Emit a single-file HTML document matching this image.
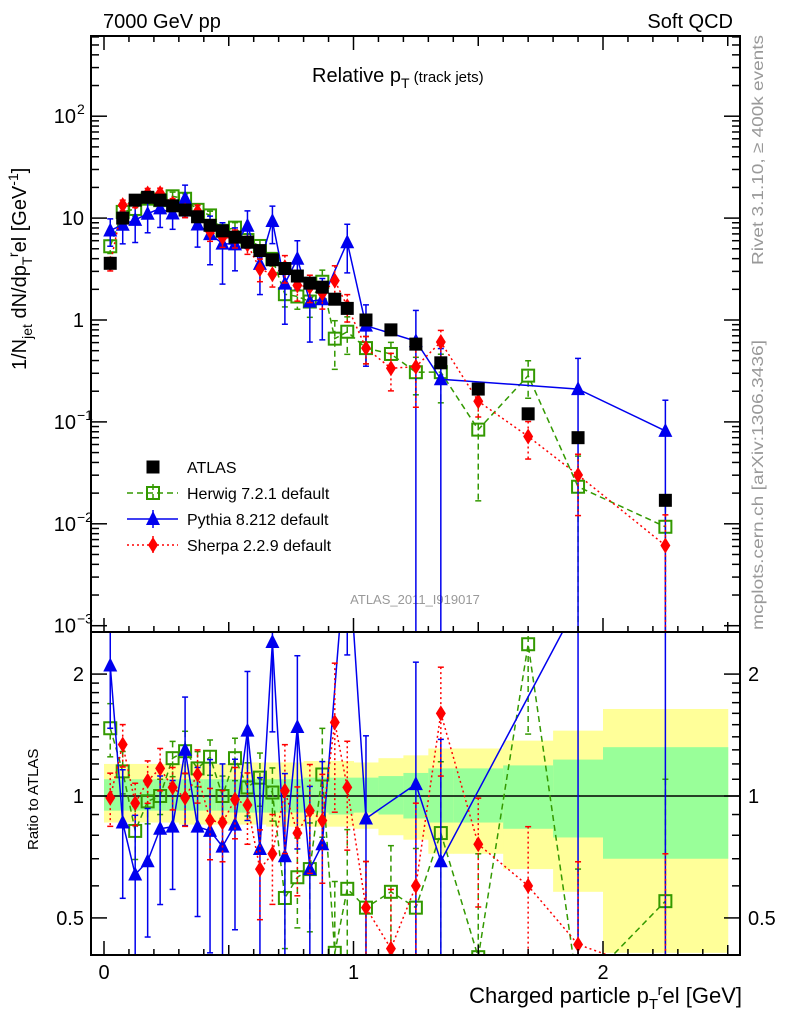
<!DOCTYPE html>
<html><head><meta charset="utf-8"><style>
body{margin:0;background:#fff;width:786px;height:1024px;overflow:hidden}
svg{font-family:"Liberation Sans",sans-serif;display:block}
</style></head><body>
<svg id="c" width="786" height="1024" xmlns="http://www.w3.org/2000/svg" overflow="hidden">
<defs>
<clipPath id="cm"><rect x="91" y="36" width="649" height="596"/></clipPath>
<clipPath id="cr"><rect x="91" y="632" width="649" height="323"/></clipPath>
</defs>
<text x="103" y="28" font-size="20">7000 GeV pp</text>
<text x="733" y="28" font-size="20" text-anchor="end">Soft QCD</text>
<text x="312" y="82" font-size="20">Relative p<tspan font-size="14" dy="6">T</tspan><tspan font-size="15" dy="-6"> (track jets)</tspan></text>
<text transform="translate(26,370) rotate(-90)" font-size="20">1/N<tspan font-size="14" dy="6">jet</tspan><tspan dy="-6"> dN/dp</tspan><tspan font-size="14" dy="6">T</tspan><tspan font-size="14" dy="-14">r</tspan><tspan dy="8">el [GeV</tspan><tspan font-size="14" dy="-8">-1</tspan><tspan dy="8">]</tspan></text>
<text transform="translate(38,850) rotate(-90)" font-size="15">Ratio to ATLAS</text>
<text x="742" y="1003" font-size="22" text-anchor="end">Charged particle p<tspan font-size="15" dy="6">T</tspan><tspan font-size="15" dy="-14">r</tspan><tspan dy="8">el [GeV]</tspan></text>
<text transform="translate(763,265) rotate(-90)" font-size="16" fill="#999" textLength="230" lengthAdjust="spacingAndGlyphs">Rivet 3.1.10, ≥ 400k events</text>
<text transform="translate(763,630) rotate(-90)" font-size="16" fill="#999" textLength="290" lengthAdjust="spacingAndGlyphs">mcplots.cern.ch [arXiv:1306.3436]</text>
<text x="415" y="604" font-size="13" fill="#999" text-anchor="middle">ATLAS_2011_I919017</text>
<g id="bands" clip-path="url(#cr)"></g>
<g id="mainMarks" clip-path="url(#cm)"></g>
<g id="ratioMarks" clip-path="url(#cr)"></g>
<g id="axes"></g>
<g id="legend"></g>
</svg>
<script>
const xs=[0.025,0.075,0.125,0.175,0.225,0.275,0.325,0.375,0.425,0.475,0.525,0.575,0.625,0.675,0.725,0.775,0.825,0.875,0.925,0.975,1.05,1.15,1.25,1.35,1.5,1.7,1.9,2.25];
const binEdges=[0,0.05,0.1,0.15,0.2,0.25,0.3,0.35,0.4,0.45,0.5,0.55,0.6,0.65,0.7,0.75,0.8,0.85,0.9,0.95,1.0,1.1,1.2,1.3,1.4,1.6,1.8,2.0,2.5];
const atlas=[3.6,10,15,16,15,13.2,12,10.3,8.5,7.5,6.5,5.8,4.8,3.9,3.2,2.7,2.3,2.1,1.6,1.3,1.0,0.8,0.58,0.38,0.21,0.12,0.07,0.017];
const herwigR=[1.47,1.15,0.82,0.97,1.0,1.24,1.29,1.17,1.25,1.0,1.24,1.05,1.11,1.02,0.56,0.63,0.66,1.13,0.41,0.59,0.53,0.58,0.53,0.81,0.40,2.37,0.33,0.55];
const pythiaR=[2.1,0.86,0.64,0.69,0.83,0.84,1.3,0.84,0.82,0.75,0.85,1.45,0.74,2.4,0.71,1.48,0.66,0.76,null,4.46,0.88,null,1.07,0.69,null,null,3.0,4.8];
const sherpaR=[0.99,1.34,0.96,1.09,1.17,1.05,0.99,1.13,0.87,0.86,0.98,0.95,0.66,0.72,1.03,0.81,0.92,0.87,1.52,1.05,0.53,0.42,0.6,1.6,0.76,0.6,0.43,0.36];
const herwigE=[0.15,0.12,0.15,0.12,0.1,0.1,0.12,0.1,0.1,0.12,0.12,0.15,0.15,0.15,0.25,0.25,0.3,0.3,0.5,0.4,0.3,0.3,0.4,0.5,0.8,0.4,1,1];
const pythiaE=[0.3,0.35,0.4,0.35,0.35,0.3,0.35,0.4,0.5,0.6,0.45,0.4,0.5,0.4,0.6,0.5,0.6,0.6,0,0.5,0.6,0,1,1,0,0,1,1];
const sherpaE=[0.15,0.12,0.12,0.12,0.12,0.12,0.15,0.15,0.2,0.2,0.2,0.2,0.25,0.25,0.3,0.3,0.3,0.3,0.4,0.3,0.3,0.4,0.6,0.3,0.3,0.4,0.6,1];
const yellowUp=[1.2,1.2,1.2,1.2,1.2,1.2,1.2,1.2,1.2,1.2,1.21,1.21,1.21,1.21,1.21,1.21,1.22,1.22,1.22,1.22,1.21,1.24,1.26,1.31,1.31,1.37,1.45,1.64];
const greenUp=[1.1,1.1,1.1,1.1,1.1,1.1,1.1,1.1,1.1,1.1,1.1,1.1,1.1,1.1,1.1,1.1,1.11,1.11,1.11,1.11,1.11,1.12,1.14,1.17,1.17,1.19,1.23,1.32];
const greenDn=[0.92,0.92,0.92,0.92,0.92,0.92,0.92,0.92,0.92,0.92,0.91,0.91,0.91,0.91,0.91,0.91,0.91,0.91,0.9,0.9,0.91,0.9,0.88,0.86,0.86,0.83,0.79,0.70];
const yellowDn=[0.86,0.86,0.86,0.86,0.86,0.86,0.85,0.85,0.85,0.85,0.85,0.85,0.85,0.84,0.84,0.84,0.84,0.84,0.84,0.84,0.83,0.8,0.78,0.72,0.72,0.66,0.58,0.41];

const NS="http://www.w3.org/2000/svg";
const X=v=>104+v*249.5;
const Y=v=>320-101.9*Math.log10(v);
const R=v=>796-405*Math.log10(v);
const clampM=y=>Math.max(30,Math.min(640,y));
const clampR=y=>Math.max(626,Math.min(960,y));
function mk(p,tag,at){const e=document.createElementNS(NS,tag);for(const k in at)e.setAttribute(k,at[k]);p.appendChild(e);return e;}
const gB=document.getElementById('bands'),gM=document.getElementById('mainMarks'),gR=document.getElementById('ratioMarks'),gA=document.getElementById('axes'),gL=document.getElementById('legend');

for(let i=0;i<xs.length;i++){
  const x0=X(binEdges[i]),x1=X(binEdges[i+1]);
  const yb=Math.min(955,R(yellowDn[i]));
  let r=mk(gB,'rect',{x:x0,y:R(yellowUp[i]),width:x1-x0+0.5,height:yb-R(yellowUp[i]),fill:'#ffff99'});
  
  
  r=mk(gB,'rect',{x:x0,y:R(greenUp[i]),width:x1-x0+0.5,height:R(greenDn[i])-R(greenUp[i]),fill:'#99ff99'});
  
  
}
let ln=mk(gR,'line',{x1:91,x2:740,y1:R(1),y2:R(1),stroke:'#000','stroke-width':1.5});



function marker(g,type,x,y,col){
  let e;
  if(type==='sq')e=mk(g,'rect',{x:x-6.5,y:y-6.5,width:13,height:13,fill:'#000'});
  if(type==='osq')e=mk(g,'rect',{x:x-6,y:y-6,width:12,height:12,fill:'none',stroke:col,'stroke-width':2});
  if(type==='tri')e=mk(g,'polygon',{points:`${x},${y-8} ${x-7},${y+6} ${x+7},${y+6}`,fill:col});
  if(type==='dia')e=mk(g,'polygon',{points:`${x},${y-8} ${x-5},${y} ${x},${y+8} ${x+5},${y}`,fill:col});
  return e;
}
const series=[
 {name:'herwig',r:herwigR,e:herwigE,col:'#339900',dash:'6,4',type:'osq'},
 {name:'pythia',r:pythiaR,e:pythiaE,col:'#0000ee',dash:'',type:'tri'},
 {name:'sherpa',r:sherpaR,e:sherpaE,col:'#ff0000',dash:'2,3',type:'dia'}];
series.forEach(s=>{
  [[gM,(i,f)=>Y(atlas[i]*f),clampM],[gR,(i,f)=>R(f),clampR]].forEach(([g,fy,cl])=>{
    let pts=[];
    for(let i=0;i<xs.length;i++){ if(s.r[i]===null)continue; pts.push(X(xs[i])+','+fy(i,s.r[i])); }
    const pl=mk(g,'polyline',{points:pts.join(' '),fill:'none',stroke:s.col,'stroke-width':1.5,'stroke-dasharray':s.dash});
    
    
    for(let i=0;i<xs.length;i++){
      const v=s.r[i]; if(v===null)continue;
      const x=X(xs[i]);
      const hiRaw=fy(i,v*(1+s.e[i]));
      const full=(1-s.e[i])<=0.01;
      const loRaw=full?2000:fy(i,v*(1-s.e[i]));
      const hi=cl(hiRaw), lo=cl(loRaw);
      if(s.e[i]>0){
        const eb=mk(g,'line',{x1:x,x2:x,y1:hi,y2:lo,stroke:s.col,'stroke-width':1.5,'stroke-dasharray':s.dash});
        
        
        mk(g,'line',{x1:x-3,x2:x+3,y1:hi,y2:hi,stroke:s.col,'stroke-width':1.5});
        if(!full)mk(g,'line',{x1:x-3,x2:x+3,y1:lo,y2:lo,stroke:s.col,'stroke-width':1.5});
      }
      const m=marker(g,s.type,x,fy(i,v),s.col);
      
      
    }
  });
});
for(let i=0;i<xs.length;i++){
  const m=marker(gM,'sq',X(xs[i]),Y(atlas[i]),'#000');
  
  
}
let f=mk(gA,'rect',{x:91,y:36,width:649,height:596,fill:'none',stroke:'#000','stroke-width':2});


f=mk(gA,'rect',{x:91,y:632,width:649,height:323,fill:'none',stroke:'#000','stroke-width':2});


function tk(x1,y1,x2,y2){mk(gA,'line',{x1,y1,x2,y2,stroke:'#000','stroke-width':1.5});}
for(let k=0;k<=25;k++){
  const v=k/10, x=X(v), L=(k%10===0)?14:(k%5===0?10:6);
  tk(x,955,x,955-L);tk(x,632,x,632-L);tk(x,36,x,36+L);
}
const xl=['0','1','2'];
xl.forEach((t,i)=>{const e=mk(gA,'text',{x:X(i),y:979,'font-size':20,'text-anchor':'middle'});e.textContent=t;
 
 });
for(let d=-3;d<=2;d++){
  for(let m=1;m<10;m++){
    const v=m*Math.pow(10,d), y=Y(v); if(y<36||y>632)continue;
    const L=m===1?16:8; tk(91,y,91+L,y);tk(740,y,740-L,y);
  }
}
const ylab=[[2,'10','2'],[1,'10',''],[0,'1',''],[-1,'10','−1'],[-2,'10','−2'],[-3,'10','−3']];
ylab.forEach(([d,b,s])=>{
  const e=mk(gA,'text',{x:s?76:84,y:Y(Math.pow(10,d))+7,'font-size':20,'text-anchor':'end'});
  e.textContent=b;
  
  
  if(s){const t=mk(gA,'text',{x:77,y:Y(Math.pow(10,d))-2,'font-size':14});t.textContent=s;}
});
[0.5,0.6,0.7,0.8,0.9,1,1.1,1.2,1.3,1.4,1.5,1.6,1.7,1.8,1.9,2].forEach(v=>{
  const y=R(v); if(y<632||y>955)return;
  const L=(v===0.5||v===1||v===2)?16:8; tk(91,y,91+L,y);tk(740,y,740-L,y);
});
[[2,'2'],[1,'1'],[0.5,'0.5']].forEach(([v,t])=>{
  let e=mk(gA,'text',{x:84,y:R(v)+7,'font-size':20,'text-anchor':'end'});e.textContent=t;
  
  
  e=mk(gA,'text',{x:748,y:R(v)+7,'font-size':20});e.textContent=t;
  
  
});
const leg=[['ATLAS','sq','#000',''],['Herwig 7.2.1 default','osq','#339900','6,4'],['Pythia 8.212 default','tri','#0000ee',''],['Sherpa 2.2.9 default','dia','#ff0000','2,3']];
leg.forEach(([t,ty,c,d],i)=>{
  const y=467+i*26;
  const g=mk(gL,'g',{});
  
  
  if(i>0)mk(g,'line',{x1:127,x2:178,y1:y,y2:y,stroke:c,'stroke-width':1.5,'stroke-dasharray':d});
  if(i>0)mk(g,'line',{x1:153,x2:153,y1:y-9,y2:y+9,stroke:c,'stroke-width':1.5,'stroke-dasharray':d});
  marker(g,ty,153,y,c);
  const e=mk(g,'text',{x:187,y:y+6,'font-size':16});e.textContent=t;
});
</script>
</body></html>
